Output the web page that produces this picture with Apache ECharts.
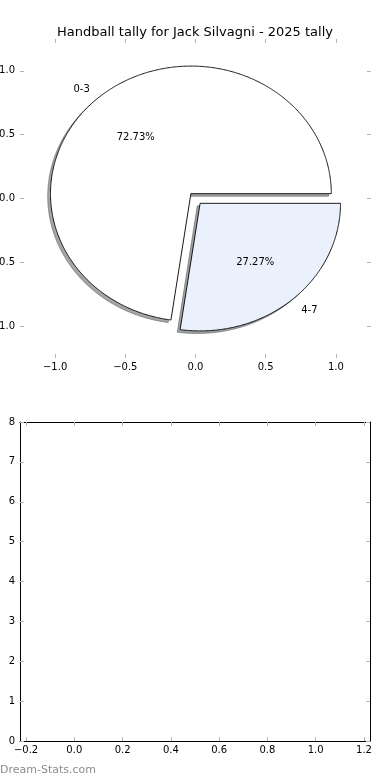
<!DOCTYPE html>
<html>
<head>
<meta charset="utf-8">
<script src="https://cdn.jsdelivr.net/npm/echarts@6/dist/echarts.min.js"></script>
<style>
html,body{margin:0;padding:0;background:#fff;}
#chart{width:390px;height:780px;}
</style>
</head>
<body>
<div id="chart"></div>
<script>
// ---- data ----
const titleText = 'Handball tally for Jack Silvagni - 2025 tally';
const categories = ['0-3', '4-7'];
const values = [8, 3];
const explode = [0.05, 0.05];
const sliceColors = ['#ffffff', '#eaf0fc'];
const pieTicks = [-1.0, -0.5, 0.0, 0.5, 1.0];
const barXTicks = [-0.2, 0.0, 0.2, 0.4, 0.6, 0.8, 1.0, 1.2];
const barYTicks = [0, 1, 2, 3, 4, 5, 6, 7, 8];
const watermark = 'Dream-Stats.com';

const FONT = 'DejaVu Sans';
const TICK_COLOR = '#b4b4b4';
const total = values.reduce((a, b) => a + b, 0);

function fmt1(v) {
  const s = Math.abs(v).toFixed(1);
  return (v < -1e-9 ? '\u2212' : '') + s;
}

function wedgeGeom(i) {
  let before = 0;
  for (let k = 0; k < i; k++) before += values[k];
  const a1 = before / total * 360;
  const a2 = (before + values[i]) / total * 360;
  const mid = (a1 + a2) / 2 * Math.PI / 180;
  const cx = explode[i] * Math.cos(mid);
  const cy = explode[i] * Math.sin(mid);
  return { a1, a2, mid, cx, cy };
}

function wedgePoints(api, g, dx, dy) {
  const pts = [api.coord([g.cx + dx, g.cy + dy])];
  const steps = Math.max(2, Math.ceil((g.a2 - g.a1) / 0.5));
  for (let s = 0; s <= steps; s++) {
    const t = (g.a1 + (g.a2 - g.a1) * s / steps) * Math.PI / 180;
    pts.push(api.coord([g.cx + Math.cos(t) + dx, g.cy + Math.sin(t) + dy]));
  }
  return pts;
}

function shadowColor(hex) {
  const r = parseInt(hex.substr(1, 2), 16), g = parseInt(hex.substr(3, 2), 16), b = parseInt(hex.substr(5, 2), 16);
  return 'rgba(' + Math.round(r * 0.3) + ',' + Math.round(g * 0.3) + ',' + Math.round(b * 0.3) + ',0.5)';
}

const pieData = values.map((v, i) => [i, v]);

function axisPair(gridIndex, dim, min, max, ticks, labelFmt, lineShow, extra) {
  const base = {
    gridIndex: gridIndex, type: 'value', min: min, max: max,
    splitLine: { show: false },
    axisLine: { show: lineShow, onZero: false, lineStyle: { color: '#000', width: 1 } },
    axisTick: { show: true, inside: true, length: 4, customValues: ticks, lineStyle: { color: TICK_COLOR, width: 1 } },
  };
  const a = Object.assign({}, base, {
    position: dim === 'x' ? 'bottom' : 'left',
    axisLabel: {
      show: true, customValues: ticks, formatter: labelFmt, fontFamily: FONT, fontSize: 10, color: '#000',
      margin: dim === 'x' ? 4 : 5, showMinLabel: true, showMaxLabel: true, hideOverlap: false,
      alignMinLabel: dim === 'x' ? 'center' : null, alignMaxLabel: dim === 'x' ? 'center' : null,
      verticalAlignMinLabel: dim === 'y' ? 'middle' : null, verticalAlignMaxLabel: dim === 'y' ? 'middle' : null
    }
  }, extra || {});
  const b = Object.assign({}, base, {
    position: dim === 'x' ? 'top' : 'right',
    axisLabel: { show: false }
  });
  return [a, b];
}

const xAxes = [].concat(
  axisPair(0, 'x', -1.25, 1.25, pieTicks, fmt1, false),
  axisPair(1, 'x', -0.225, 1.225, barXTicks, fmt1, true)
);
const yAxes = [].concat(
  axisPair(0, 'y', -1.25, 1.25, pieTicks, fmt1, false),
  axisPair(1, 'y', 0, 8, barYTicks, v => String(Math.round(v)), true, { interval: 1 })
);

const chart = echarts.init(document.getElementById('chart'), null, { renderer: 'canvas' });
chart.setOption({
  animation: false,
  backgroundColor: '#ffffff',
  title: {
    text: titleText, left: 'center', top: 21,
    textStyle: { fontFamily: FONT, fontSize: 13, fontWeight: 'normal', color: '#000' }
  },
  grid: [
    { left: 20, top: 39, width: 351, height: 319, containLabel: false, outerBoundsMode: 'none' },
    { left: 20, top: 422, width: 350, height: 319, containLabel: false, outerBoundsMode: 'none' }
  ],
  xAxis: xAxes,
  yAxis: yAxes,
  graphic: [{
    type: 'text', left: 0, top: 765,
    style: { text: watermark, fontFamily: FONT, fontSize: 11, fill: '#8c8c8c' }
  }],
  series: [
    {
      type: 'custom', name: 'shadow', coordinateSystem: 'cartesian2d', xAxisIndex: 0, yAxisIndex: 0,
      data: pieData, clip: false, silent: true, z: 1,
      renderItem: function (params, api) {
        const i = api.value(0);
        const g = wedgeGeom(i);
        const c = shadowColor(sliceColors[i]);
        return {
          type: 'polygon',
          shape: { points: wedgePoints(api, g, -0.02, -0.02) },
          style: { fill: c, stroke: c, lineWidth: 1 }
        };
      }
    },
    {
      type: 'custom', name: 'pie', coordinateSystem: 'cartesian2d', xAxisIndex: 0, yAxisIndex: 0,
      data: pieData, clip: false, silent: true, z: 2,
      renderItem: function (params, api) {
        const i = api.value(0);
        const g = wedgeGeom(i);
        const lp = api.coord([g.cx + 1.1 * Math.cos(g.mid), g.cy + 1.1 * Math.sin(g.mid)]);
        const pp = api.coord([g.cx + 0.6 * Math.cos(g.mid), g.cy + 0.6 * Math.sin(g.mid)]);
        const pct = (values[i] / total * 100).toFixed(2) + '%';
        return {
          type: 'group',
          children: [
            {
              type: 'polygon',
              shape: { points: wedgePoints(api, g, 0, 0) },
              style: { fill: sliceColors[i], stroke: '#000', lineWidth: 0.9 }
            },
            {
              type: 'text', x: lp[0], y: lp[1] + 1.5,
              style: { text: categories[i], fontFamily: FONT, fontSize: 10, fill: '#000',
                align: Math.cos(g.mid) < 0 ? 'right' : 'left', verticalAlign: 'middle' }
            },
            {
              type: 'text', x: pp[0], y: pp[1] + 1.5,
              style: { text: pct, fontFamily: FONT, fontSize: 10, fill: '#000', align: 'center', verticalAlign: 'middle' }
            }
          ]
        };
      }
    },
    {
      type: 'line', xAxisIndex: 2, yAxisIndex: 2, data: [], silent: true
    }
  ]
});
</script>
</body>
</html>
